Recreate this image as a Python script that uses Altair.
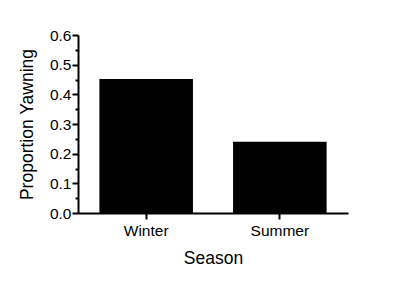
import altair as alt
import pandas as pd

seasons = ["Winter", "Summer"]
proportions = [0.452, 0.240]
y_ticks = [round(i * 0.05, 2) for i in range(13)]

df = pd.DataFrame({"Season": seasons, "Proportion": proportions})

font = "Liberation Sans"

major_test = "abs(round(datum.value*10) - datum.value*10) < 0.001"

chart = alt.Chart(df).mark_bar(color="black").encode(
    x=alt.X("Season:N", sort=seasons,
            scale=alt.Scale(paddingInner=0.3, paddingOuter=0.16),
            axis=alt.Axis(title="Season", labelAngle=0, labelFontSize=15.5,
                          titleFontSize=17.5, titlePadding=11, labelPadding=4,
                          tickSize=6, tickWidth=2, domainWidth=2,
                          domainColor="black", tickColor="black",
                          labelColor="black", titleColor="black",
                          titleFontWeight="normal", labelFont=font, titleFont=font)),
    y=alt.Y("Proportion:Q",
            scale=alt.Scale(domain=[0, 0.6], nice=False),
            axis=alt.Axis(title="Proportion Yawning", values=y_ticks,
                          format=".1f",
                          labelExpr=f"({major_test}) ? format(datum.value, '.1f') : ''",
                          tickSize={"condition": {"test": major_test, "value": 6}, "value": 3},
                          labelFontSize=15.5, titleFontSize=17.5, titlePadding=13,
                          labelPadding=1, tickWidth=2, domainWidth=2,
                          domainColor="black", tickColor="black",
                          labelColor="black", titleColor="black", grid=False,
                          titleFontWeight="normal", labelFont=font, titleFont=font)),
).properties(
    width=270, height=178,
    autosize=alt.AutoSizeParams(type="none"),
    padding={"left": 78, "top": 35, "right": 52, "bottom": 71},
).configure(background="white").configure_view(stroke=None)

chart.save("out.html", embed_options={"renderer": "svg", "actions": False})
